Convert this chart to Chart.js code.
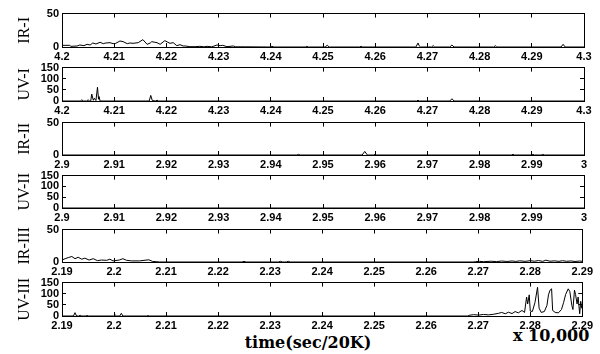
<!DOCTYPE html>
<html>
<head>
<meta charset="utf-8">
<script src="https://cdn.jsdelivr.net/npm/chart.js@4"></script>
<style>
  html, body { margin: 0; padding: 0; background: #fff; }
  #wrap { position: relative; width: 600px; height: 354px; overflow: hidden; background: #fff; }
  #wrap canvas { position: absolute; left: 0; }
  .cap { position: absolute; font-family: "DejaVu Serif", serif; font-weight: bold; font-size: 16px;
         color: #000; white-space: nowrap; line-height: 1; }
</style>
</head>
<body>
<div id="wrap">
  <div class="cap" id="xTitle" style="left:308px; top:335px; transform:translateX(-50%);">time(sec/20K)</div>
  <div class="cap" id="xScale" style="left:513px; top:328px;">x 10,000</div>
</div>
<script>
// ---- time axis ticks (units of 10,000 samples at 20 kHz) ----
const ticksRun1 = [4.20, 4.21, 4.22, 4.23, 4.24, 4.25, 4.26, 4.27, 4.28, 4.29, 4.30];
const labelsRun1 = ['4.2', '4.21', '4.22', '4.23', '4.24', '4.25', '4.26', '4.27', '4.28', '4.29', '4.3'];
const ticksRun2 = [2.90, 2.91, 2.92, 2.93, 2.94, 2.95, 2.96, 2.97, 2.98, 2.99, 3.00];
const labelsRun2 = ['2.9', '2.91', '2.92', '2.93', '2.94', '2.95', '2.96', '2.97', '2.98', '2.99', '3'];
const ticksRun3 = [2.19, 2.20, 2.21, 2.22, 2.23, 2.24, 2.25, 2.26, 2.27, 2.28, 2.29];
const labelsRun3 = ['2.19', '2.2', '2.21', '2.22', '2.23', '2.24', '2.25', '2.26', '2.27', '2.28', '2.29'];

// ---- intensity ticks ----
const irTicks = [0, 50];
const uvTicks = [0, 50, 100, 150];

// ---- signals: [time, intensity] ----
const irI = [
  [4.2000, 2.5], [4.2015, 2.5], [4.2017, 1], [4.2029, 1.5], [4.2034, 3], [4.2042, 2], [4.2048, 4],
  [4.2054, 3], [4.2059, 6], [4.2065, 4.5], [4.2073, 7], [4.2079, 5], [4.2084, 6], [4.2092, 6.5],
  [4.2098, 5], [4.2103, 5.5], [4.2111, 9], [4.2117, 8], [4.2125, 5], [4.2130, 6], [4.2136, 5.5],
  [4.2146, 6.5], [4.2155, 11], [4.2163, 4], [4.2169, 6], [4.2172, 8], [4.2178, 7], [4.2182, 6.5],
  [4.2188, 4], [4.2197, 9.5], [4.2203, 7], [4.2207, 5.5], [4.2213, 6.5], [4.2220, 2], [4.2226, 3.5],
  [4.2232, 1.5], [4.2236, 1.5], [4.2245, 0.5], [4.2255, 0.5], [4.2264, 1], [4.2272, 0.3], [4.2278, 1],
  [4.2287, 0.3], [4.2297, 3], [4.2303, 2], [4.2308, 2.5], [4.2316, 0.5], [4.2328, 1.5], [4.2333, 0.3],
  [4.2351, 0.3], [4.2398, 0], [4.2402, 1], [4.2406, 0], [4.2466, 0], [4.2469, 1], [4.2472, 0],
  [4.2504, 0], [4.2508, 2.5], [4.2512, 0], [4.2570, 0], [4.2573, 1], [4.2576, 0], [4.2678, 0],
  [4.2682, 6], [4.2684, 2], [4.2687, 0], [4.2708, 0], [4.2711, 2], [4.2714, 0], [4.2743, 0],
  [4.2747, 3], [4.2751, 0], [4.2827, 0], [4.2830, 2], [4.2833, 0], [4.2956, 0], [4.2960, 4],
  [4.2964, 0], [4.3000, 0]
];
const uvI = [
  [4.2000, 0], [4.2035, 0], [4.2038, 5], [4.2041, 0], [4.2047, 0], [4.2050, 5], [4.2053, 0],
  [4.2055, 0], [4.2057, 31], [4.2060, 3], [4.2062, 12], [4.2065, 2], [4.2068, 62], [4.2070, 8],
  [4.2071, 20], [4.2073, 0], [4.2167, 0], [4.2170, 25], [4.2173, 2], [4.2180, 0], [4.2182, 4],
  [4.2185, 0], [4.2679, 0], [4.2682, 3], [4.2685, 0], [4.2743, 0], [4.2747, 10], [4.2751, 0],
  [4.3000, 0]
];
const irII = [
  [2.9000, 0], [2.9450, 0], [2.9453, 1], [2.9456, 0], [2.9575, 0], [2.9580, 5.5], [2.9585, 0],
  [2.9597, 0], [2.9600, 1], [2.9603, 0], [2.9861, 0], [2.9864, 1], [2.9867, 0], [2.9899, 0],
  [2.9902, 1], [2.9905, 0], [2.9918, 0], [2.9921, 1], [2.9924, 0], [3.0000, 0]
];
const uvII = [
  [2.9000, 0], [3.0000, 0]
];
const irIII = [
  [2.1900, 3], [2.1906, 5.1], [2.1912, 6.8], [2.1919, 8.5], [2.1925, 5.1], [2.1931, 7.3],
  [2.1938, 4.3], [2.1944, 6], [2.1952, 3], [2.1960, 5.1], [2.1968, 2.1], [2.1976, 3], [2.1986, 2.6],
  [2.1992, 4.3], [2.1998, 1.7], [2.2010, 3], [2.2017, 5.1], [2.2024, 2.6], [2.2034, 1.7],
  [2.2049, 1.7], [2.2067, 3.4], [2.2074, 0.9], [2.2088, 0], [2.2246, 0], [2.2250, 1], [2.2254, 0],
  [2.2316, 0], [2.2320, 1], [2.2324, 0], [2.2331, 0], [2.2335, 1], [2.2339, 0], [2.2690, 0],
  [2.2695, 0.5], [2.2702, 1], [2.2710, 0.5], [2.2725, 1.2], [2.2735, 0.6], [2.2745, 1.5],
  [2.2755, 0.8], [2.2765, 1.6], [2.2772, 0.9], [2.2780, 1.8], [2.2790, 1.0], [2.2800, 2.0],
  [2.2808, 1.2], [2.2816, 2.2], [2.2824, 1.0], [2.2830, 2.8], [2.2838, 1.2], [2.2846, 1.8],
  [2.2855, 1.0], [2.2862, 2.0], [2.2870, 1.1], [2.2878, 1.6], [2.2886, 0.8], [2.2895, 1.5],
  [2.2900, 1.0]
];
const uvIII = [
  [2.1900, 0], [2.1922, 0], [2.1925, 15], [2.1928, 0], [2.1932, 0], [2.1935, 3], [2.1938, 0],
  [2.1945, 0], [2.1948, 2], [2.1951, 0], [2.1999, 0], [2.2002, 5], [2.2005, 0], [2.2011, 0],
  [2.2014, 12], [2.2017, 0], [2.2062, 0], [2.2065, 2], [2.2068, 0], [2.2680, 0], [2.2682, 3],
  [2.2691, 6], [2.2701, 4], [2.2710, 7], [2.2720, 5], [2.2730, 8], [2.2739, 12], [2.2745, 16],
  [2.2752, 10], [2.2758, 17], [2.2765, 11], [2.2771, 20], [2.2777, 14], [2.2784, 25], [2.2789, 16],
  [2.2793, 85], [2.2795, 54], [2.2798, 95], [2.2800, 22], [2.2804, 20], [2.2809, 60], [2.2814, 129],
  [2.2817, 35], [2.2821, 16], [2.2827, 20], [2.2832, 47], [2.2835, 95], [2.2838, 116], [2.2841, 122],
  [2.2843, 25], [2.2848, 16], [2.2854, 14], [2.2860, 29], [2.2864, 60], [2.2868, 97], [2.2873, 122],
  [2.2876, 110], [2.2880, 47], [2.2882, 29], [2.2885, 116], [2.2887, 97], [2.2890, 54], [2.2892, 85],
  [2.2895, 10], [2.2897, 66], [2.2899, 35], [2.2900, 40]
];

// ---- panels, top to bottom ----
const panels = [
  { name: 'IR-I',   data: irI,   xt: ticksRun1, xl: labelsRun1, yt: irTicks, top: 7,   bottom: 47 },
  { name: 'UV-I',   data: uvI,   xt: ticksRun1, xl: labelsRun1, yt: uvTicks, top: 61,  bottom: 101 },
  { name: 'IR-II',  data: irII,  xt: ticksRun2, xl: labelsRun2, yt: irTicks, top: 116, bottom: 155 },
  { name: 'UV-II',  data: uvII,  xt: ticksRun2, xl: labelsRun2, yt: uvTicks, top: 169, bottom: 208 },
  { name: 'IR-III', data: irIII, xt: ticksRun3, xl: labelsRun3, yt: irTicks, top: 223, bottom: 262 },
  { name: 'UV-III', data: uvIII, xt: ticksRun3, xl: labelsRun3, yt: uvTicks, top: 276, bottom: 316 }
];

const PAD_TOP = 7, AXIS_H = 20, LEFT = 62, PAD_RIGHT = 16;
const ink = '#000';
const tickFont = { family: 'Liberation Sans', size: 11, weight: 'bold' };
const fixTicks = vals => scale => { scale.ticks = vals.map(v => ({ value: v })); };
const wrap = document.getElementById('wrap');

panels.forEach(p => {
  const cv = document.createElement('canvas');
  cv.width = 600;
  cv.height = PAD_TOP + (p.bottom - p.top) + AXIS_H;
  cv.style.top = (p.top - PAD_TOP) + 'px';
  wrap.appendChild(cv);

  const xMin = p.xt[0], xMax = p.xt[p.xt.length - 1];
  const yMin = p.yt[0], yMax = p.yt[p.yt.length - 1];
  const frame = { display: true, color: ink, width: 1 };
  const inwardGrid = { drawOnChartArea: false, drawTicks: true, tickLength: -4, color: ink, lineWidth: 1 };

  new Chart(cv, {
    type: 'line',
    data: {
      datasets: [{
        data: p.data.map(([x, y]) => ({ x, y })),
        borderColor: ink, borderWidth: 1, pointRadius: 0, tension: 0, fill: false
      }]
    },
    options: {
      responsive: false, animation: false, devicePixelRatio: 1, events: [],
      layout: { padding: { top: PAD_TOP, right: PAD_RIGHT, left: 0, bottom: 0 } },
      plugins: { legend: { display: false }, tooltip: { enabled: false } },
      scales: {
        x: {
          type: 'linear', position: 'bottom', min: xMin, max: xMax,
          afterBuildTicks: fixTicks(p.xt),
          afterFit: s => { s.height = AXIS_H; },
          grid: inwardGrid, border: frame,
          ticks: { padding: 7, color: ink, font: tickFont, maxRotation: 0, autoSkip: false,
                   callback: (v, i) => p.xl[i] }
        },
        xTop: {
          type: 'linear', position: 'top', min: xMin, max: xMax,
          afterBuildTicks: fixTicks(p.xt),
          afterFit: s => { s.height = 0; },
          grid: inwardGrid, border: frame, ticks: { display: false }
        },
        y: {
          type: 'linear', position: 'left', min: yMin, max: yMax,
          afterBuildTicks: fixTicks(p.yt),
          afterFit: s => { s.width = LEFT; },
          grid: inwardGrid, border: frame,
          ticks: { padding: 7, color: ink, font: tickFont, autoSkip: false, callback: v => String(v) },
          title: { display: true, text: p.name, color: ink,
                   font: { family: 'Liberation Serif', size: 16 }, padding: { top: 15, bottom: 0 } }
        },
        yRight: {
          type: 'linear', position: 'right', min: yMin, max: yMax,
          afterBuildTicks: fixTicks(p.yt),
          afterFit: s => { s.width = 0; },
          grid: inwardGrid, border: frame, ticks: { display: false, autoSkip: false }
        }
      }
    }
  });
});
</script>
</body>
</html>
